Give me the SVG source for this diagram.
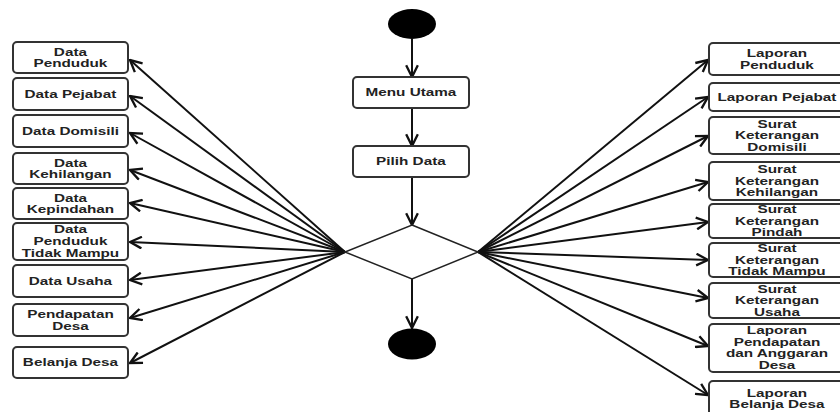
<svg xmlns="http://www.w3.org/2000/svg" width="840" height="412" viewBox="0 0 840 412">
<style>
.box{fill:#fff;stroke:#333;stroke-width:2}
.t{font-family:"Liberation Sans",Arial,sans-serif;font-weight:bold;font-size:11.5px;fill:#222;text-anchor:middle;transform-box:fill-box;transform-origin:center;transform:scaleX(1.33)}
.c{fill:none;stroke:#111;stroke-width:2;marker-end:url(#arr)}
.dot{fill:#000}
.dia{fill:#fff;stroke:#222;stroke-width:1.5}
</style>
<defs>
<marker id="arr" markerUnits="userSpaceOnUse" markerWidth="14" markerHeight="14" viewBox="0 0 12 12" refX="11" refY="6" orient="auto">
<path d="M1,1 L11,6 L1,11" fill="none" stroke="#111" stroke-width="2"/>
</marker>
</defs>
<g id="connectors">
<line class="c" x1="412" y1="39" x2="412" y2="77"/>
<line class="c" x1="412" y1="108" x2="412" y2="146"/>
<line class="c" x1="412" y1="177" x2="412" y2="225"/>
<line class="c" x1="412" y1="279" x2="412" y2="328"/>
<line class="c" x1="345" y1="252" x2="130" y2="60"/>
<line class="c" x1="345" y1="252" x2="130" y2="96"/>
<line class="c" x1="345" y1="252" x2="130" y2="133"/>
<line class="c" x1="345" y1="252" x2="130" y2="170"/>
<line class="c" x1="345" y1="252" x2="130" y2="203"/>
<line class="c" x1="345" y1="252" x2="130" y2="242"/>
<line class="c" x1="345" y1="252" x2="130" y2="280"/>
<line class="c" x1="345" y1="252" x2="130" y2="318"/>
<line class="c" x1="345" y1="252" x2="130" y2="363"/>
<line class="c" x1="478" y1="252" x2="708" y2="60"/>
<line class="c" x1="478" y1="252" x2="708" y2="97"/>
<line class="c" x1="478" y1="252" x2="708" y2="136"/>
<line class="c" x1="478" y1="252" x2="708" y2="182"/>
<line class="c" x1="478" y1="252" x2="708" y2="222"/>
<line class="c" x1="478" y1="252" x2="708" y2="260"/>
<line class="c" x1="478" y1="252" x2="708" y2="298"/>
<line class="c" x1="478" y1="252" x2="708" y2="346"/>
<line class="c" x1="478" y1="252" x2="708" y2="395"/>
</g>
<g id="start"><ellipse class="dot" cx="412" cy="24" rx="24" ry="15"/></g>
<g id="menu-utama"><rect class="box" x="353" y="77" width="116" height="31" rx="4"/><text class="t" x="411" y="96.5">Menu Utama</text></g>
<g id="pilih-data"><rect class="box" x="353" y="146" width="116" height="31" rx="4"/><text class="t" x="411" y="165.5">Pilih Data</text></g>
<g id="decision"><polygon class="dia" points="412,225 478,252 412,279 345,252"/></g>
<g id="end"><ellipse class="dot" cx="412" cy="344" rx="24" ry="15.5"/></g>

<g id="data-penduduk"><rect class="box" x="13" y="42" width="115" height="31" rx="4"/><text class="t"><tspan x="70.5" y="56">Data</tspan><tspan x="70.5" y="67.5">Penduduk</tspan></text></g>
<g id="data-pejabat"><rect class="box" x="13" y="78" width="115" height="32" rx="4"/><text class="t" x="70.5" y="98">Data Pejabat</text></g>
<g id="data-domisili"><rect class="box" x="13" y="115" width="115" height="32" rx="4"/><text class="t" x="70.5" y="135">Data Domisili</text></g>
<g id="data-kehilangan"><rect class="box" x="13" y="153" width="115" height="31" rx="4"/><text class="t"><tspan x="70.5" y="167">Data</tspan><tspan x="70.5" y="178.5">Kehilangan</tspan></text></g>
<g id="data-kepindahan"><rect class="box" x="13" y="188" width="115" height="31" rx="4"/><text class="t"><tspan x="70.5" y="202">Data</tspan><tspan x="70.5" y="213.5">Kepindahan</tspan></text></g>
<g id="data-penduduk-tidak-mampu"><rect class="box" x="13" y="223" width="115" height="37" rx="4"/><text class="t"><tspan x="70.5" y="233.5">Data</tspan><tspan x="70.5" y="245.5">Penduduk</tspan><tspan x="70.5" y="257">Tidak Mampu</tspan></text></g>
<g id="data-usaha"><rect class="box" x="13" y="265" width="115" height="32" rx="4"/><text class="t" x="70.5" y="285">Data Usaha</text></g>
<g id="pendapatan-desa"><rect class="box" x="13" y="304" width="115" height="32" rx="4"/><text class="t"><tspan x="70.5" y="318.5">Pendapatan</tspan><tspan x="70.5" y="330">Desa</tspan></text></g>
<g id="belanja-desa"><rect class="box" x="13" y="347" width="115" height="31" rx="4"/><text class="t" x="70.5" y="366.5">Belanja Desa</text></g>

<g id="laporan-penduduk"><rect class="box" x="709" y="43" width="136" height="32" rx="4"/><text class="t"><tspan x="777" y="57.5">Laporan</tspan><tspan x="777" y="69">Penduduk</tspan></text></g>
<g id="laporan-pejabat"><rect class="box" x="709" y="83" width="136" height="28" rx="4"/><text class="t" x="777" y="101">Laporan Pejabat</text></g>
<g id="sk-domisili"><rect class="box" x="709" y="117" width="136" height="37" rx="4"/><text class="t"><tspan x="777" y="128">Surat</tspan><tspan x="777" y="139.5">Keterangan</tspan><tspan x="777" y="151">Domisili</tspan></text></g>
<g id="sk-kehilangan"><rect class="box" x="709" y="162" width="136" height="38" rx="4"/><text class="t"><tspan x="777" y="173.5">Surat</tspan><tspan x="777" y="185">Keterangan</tspan><tspan x="777" y="196.5">Kehilangan</tspan></text></g>
<g id="sk-pindah"><rect class="box" x="709" y="204" width="136" height="34" rx="4"/><text class="t"><tspan x="777" y="213.5">Surat</tspan><tspan x="777" y="225">Keterangan</tspan><tspan x="777" y="236.5">Pindah</tspan></text></g>
<g id="sk-tidak-mampu"><rect class="box" x="709" y="243" width="136" height="34" rx="4"/><text class="t"><tspan x="777" y="252.5">Surat</tspan><tspan x="777" y="264">Keterangan</tspan><tspan x="777" y="275.5">Tidak Mampu</tspan></text></g>
<g id="sk-usaha"><rect class="box" x="709" y="283" width="136" height="35" rx="4"/><text class="t"><tspan x="777" y="293">Surat</tspan><tspan x="777" y="304.5">Keterangan</tspan><tspan x="777" y="316">Usaha</tspan></text></g>
<g id="laporan-pendapatan"><rect class="box" x="709" y="324" width="136" height="48" rx="4"/><text class="t"><tspan x="777" y="334.5">Laporan</tspan><tspan x="777" y="346">Pendapatan</tspan><tspan x="777" y="357.5">dan Anggaran</tspan><tspan x="777" y="369">Desa</tspan></text></g>
<g id="laporan-belanja"><rect class="box" x="709" y="381" width="136" height="40" rx="4"/><text class="t"><tspan x="777" y="397">Laporan</tspan><tspan x="777" y="408.5">Belanja Desa</tspan></text></g>
</svg>
